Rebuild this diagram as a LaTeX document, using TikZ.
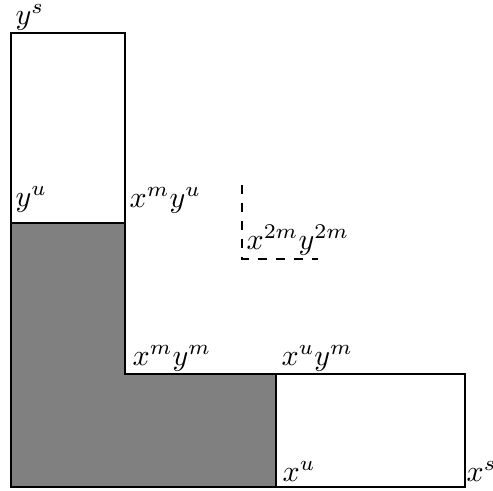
\documentclass[tikz,border=0pt]{standalone}
\begin{document}
\begin{tikzpicture}[x=0.3333pt,y=-0.3333pt,
  edge/.style={line width=0.8pt},
  lbl/.style={anchor=base west,inner sep=0pt}]
\useasboundingbox (0,0) rectangle (493,490);
% top white rectangle
\draw[edge] (11,33) rectangle (125,223);
% gray L region
\filldraw[edge,fill=black!50] (11,223) -- (125,223) -- (125,374) -- (276,374) -- (276,487) -- (11,487) -- cycle;
% right white rectangle
\draw[edge] (276,374) rectangle (465,487);
% dashed corner
\draw[edge,dashed] (242,185) -- (242,259) -- (318,259);
% labels
\node[lbl] (ys) at (15,24) {$y^s$};
\node[lbl] (yu) at (15,206) {$y^u$};
\node[lbl] (xmyu) at (129,207) {$x^my^u$};
\node[lbl] (xmym) at (132,365) {$x^my^m$};
\node[lbl] (xuym) at (281,365) {$x^uy^m$};
\node[lbl] (xu) at (282,481) {$x^u$};
\node[lbl] (xs) at (466,481) {$x^s$};
\node[lbl] (x2m) at (246,249) {$x^{2m}y^{2m}$};
\end{tikzpicture}
\end{document}
